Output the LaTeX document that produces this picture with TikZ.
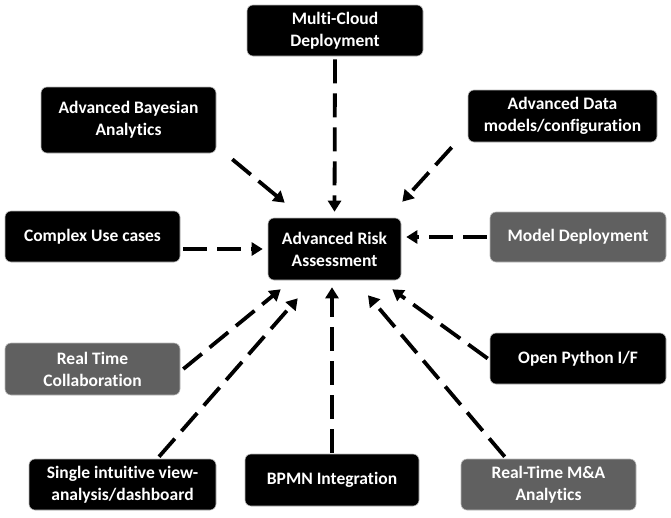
\documentclass[tikz,border=0pt]{standalone}
\usepackage{fontspec}
\setmainfont[Ligatures=NoCommon]{Carlito}
\usetikzlibrary{arrows.meta}
\definecolor{boxgray}{RGB}{96,96,96}
\tikzset{
  box/.style={rectangle, rounded corners=6pt, fill=black, draw=gray!55, line width=0.6pt,
    text=white, align=center, inner sep=0pt,
    font=\fontsize{17.5}{22}\selectfont\bfseries},
  graybox/.style={box, fill=boxgray},
  arr/.style={line width=3.8pt, dash pattern=on 24pt off 10pt,
    -{Triangle[length=11pt,width=13pt]}}
}
\begin{document}
\begin{tikzpicture}[x=1pt,y=-1pt]
\useasboundingbox (0,0) rectangle (671,517);
% nodes
\node[box, minimum width=176pt, minimum height=51pt] (mc) at (335,30.5) {Multi-Cloud\\Deployment};
\node[box, minimum width=175pt, minimum height=66pt] (bay) at (128.5,120) {Advanced Bayesian\\Analytics};
\node[box, minimum width=189pt, minimum height=52pt] (dat) at (562.5,116) {Advanced Data\\models/configuration};
\node[box, minimum width=175pt, minimum height=51pt] (cx) at (92.5,236.5) {Complex Use cases};
\node[box, minimum width=133pt, minimum height=62pt] (risk) at (334.5,249) {Advanced Risk\\Assessment};
\node[graybox, minimum width=176pt, minimum height=50pt] (md) at (578,237) {Model Deployment};
\node[graybox, minimum width=175pt, minimum height=52pt] (rt) at (92.5,369) {Real Time\\Collaboration};
\node[box, minimum width=176pt, minimum height=51pt] (op) at (578,358.5) {Open Python I/F};
\node[box, minimum width=187pt, minimum height=51pt] (sv) at (122.5,484.5) {Single intuitive view-\\analysis/dashboard};
\node[box, minimum width=174pt, minimum height=52pt] (bp) at (332,480) {BPMN Integration};
\node[graybox, minimum width=175pt, minimum height=51pt] (ma) at (548.5,484.5) {Real-Time M\&A\\Analytics};
% connectors
\draw[arr] ([yshift=-3pt]mc.south) -- ([yshift=6pt]risk.north);
\draw[arr] ([xshift=16pt,yshift=-6pt]bay.south east) -- ([xshift=17pt,yshift=15pt]risk.north west);
\draw[arr] ([xshift=-16pt,yshift=-5pt]dat.south west) -- ([xshift=1pt,yshift=16pt]risk.north east);
\draw[arr] ([xshift=3pt]cx.east |- risk.west) -- ([xshift=-5pt]risk.west);
\draw[arr] ([xshift=-3pt]md.west) -- ([xshift=5pt]risk.east |- md.west);
\draw[arr] ([xshift=3pt]rt.east) -- ([xshift=13pt,yshift=-9pt]risk.south west);
\draw[arr] ([xshift=36.5pt,yshift=2pt]sv.north) -- ([xshift=30pt,yshift=-18pt]risk.south west);
\draw[arr] ([yshift=1pt]bp.north) -- ([yshift=-7pt]bp.north |- risk.south);
\draw[arr] ([xshift=-2pt]op.west) -- ([xshift=-9pt,yshift=-9pt]risk.south east);
\draw[arr] ([xshift=44pt,yshift=2pt]ma.north west) -- ([xshift=33.5pt,yshift=-15pt]risk.south);
\end{tikzpicture}
\end{document}
